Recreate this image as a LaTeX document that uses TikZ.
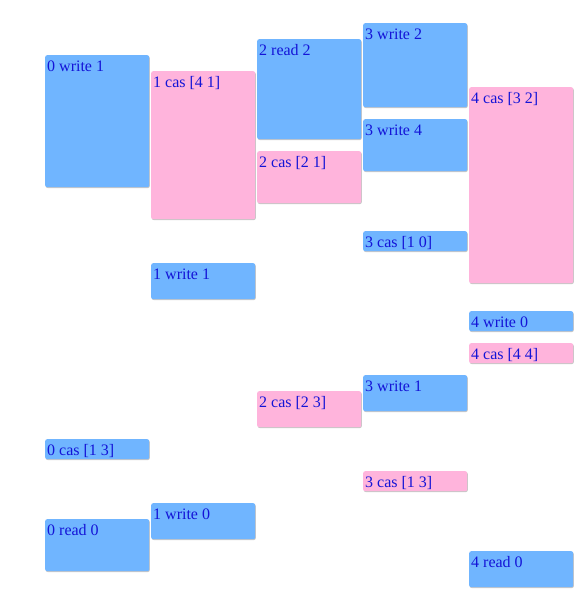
\documentclass[tikz,border=0pt]{standalone}
\usepackage{fontspec}
\setmainfont{Liberation Serif}
\usetikzlibrary{shadows}
\definecolor{opblue}{RGB}{112,181,255}
\definecolor{oppink}{RGB}{255,180,220}
\definecolor{optext}{RGB}{20,20,215}
\tikzset{
  evbox/.style={rounded corners=2pt, minimum width=104pt, inner sep=0pt, draw=none,
    drop shadow={shadow xshift=0.6pt, shadow yshift=-0.9pt, opacity=0.22, fill=black}},
  evtext/.style={inner sep=0pt, text=optext, font=\fontsize{16}{18}\selectfont},
}
\newcommand\evnode[6]{%
  \node[evbox, fill=#5, minimum height=#4pt, anchor=north west] (#1) at (#2,#3) {};
  \node[evtext, anchor=base west] (#1t) at ([shift={(2,16.5)}]#1.north west) {#6};
}
\begin{document}
\begin{tikzpicture}[x=1pt,y=-1pt]
\useasboundingbox[fill=white] (0,0) rectangle (585,591);
% column 0
\evnode{a1}{45}{55}{132}{opblue}{0 write 1}
\evnode{a2}{45}{439}{20}{opblue}{0 cas [1 3]}
\evnode{a3}{45}{519}{52}{opblue}{0 read 0}
% column 1
\evnode{b1}{151}{71}{148}{oppink}{1 cas [4 1]}
\evnode{b2}{151}{263}{36}{opblue}{1 write 1}
\evnode{b3}{151}{503}{36}{opblue}{1 write 0}
% column 2
\evnode{c1}{257}{39}{100}{opblue}{2 read 2}
\evnode{c2}{257}{151}{52}{oppink}{2 cas [2 1]}
\evnode{c3}{257}{391}{36}{oppink}{2 cas [2 3]}
% column 3
\evnode{d1}{363}{23}{84}{opblue}{3 write 2}
\evnode{d2}{363}{119}{52}{opblue}{3 write 4}
\evnode{d3}{363}{231}{20}{opblue}{3 cas [1 0]}
\evnode{d4}{363}{375}{36}{opblue}{3 write 1}
\evnode{d5}{363}{471}{20}{oppink}{3 cas [1 3]}
% column 4
\evnode{e1}{469}{87}{196}{oppink}{4 cas [3 2]}
\evnode{e2}{469}{311}{20}{opblue}{4 write 0}
\evnode{e3}{469}{343}{20}{oppink}{4 cas [4 4]}
\evnode{e4}{469}{551}{36}{opblue}{4 read 0}
\end{tikzpicture}
\end{document}
